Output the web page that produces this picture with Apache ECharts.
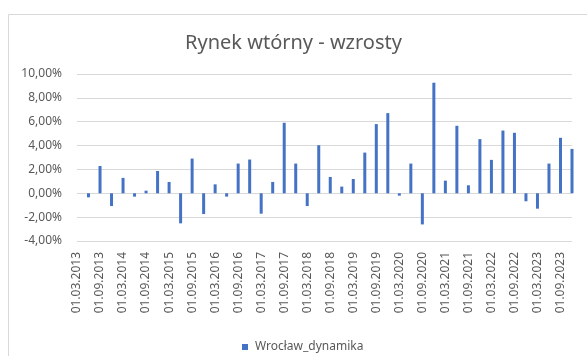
<!DOCTYPE html>
<html>
<head>
<meta charset="utf-8">
<script src="https://cdn.jsdelivr.net/npm/echarts@6/dist/echarts.min.js"></script>
<style>
  html, body { margin: 0; padding: 0; background: #ffffff; }
  #chart { width: 587px; height: 356px; }
</style>
</head>
<body>
<div id="chart"></div>
<script>
// Quarterly dates (first day of each quarter's reference month)
const categories = [
  '01.03.2013','01.06.2013','01.09.2013','01.12.2013',
  '01.03.2014','01.06.2014','01.09.2014','01.12.2014',
  '01.03.2015','01.06.2015','01.09.2015','01.12.2015',
  '01.03.2016','01.06.2016','01.09.2016','01.12.2016',
  '01.03.2017','01.06.2017','01.09.2017','01.12.2017',
  '01.03.2018','01.06.2018','01.09.2018','01.12.2018',
  '01.03.2019','01.06.2019','01.09.2019','01.12.2019',
  '01.03.2020','01.06.2020','01.09.2020','01.12.2020',
  '01.03.2021','01.06.2021','01.09.2021','01.12.2021',
  '01.03.2022','01.06.2022','01.09.2022','01.12.2022',
  '01.03.2023','01.06.2023','01.09.2023','01.12.2023'
];

// Quarter-on-quarter change, in percent
const wroclawDynamika = [
  null, -0.34, 2.29, -1.07,
  1.29, -0.28, 0.22, 1.87,
  0.95, -2.52, 2.91, -1.74,
  0.75, -0.28, 2.49, 2.83,
  -1.71, 0.95, 5.91, 2.49,
  -1.07, 4.03, 1.37, 0.56,
  1.20, 3.41, 5.80, 6.72,
  -0.20, 2.49, -2.61, 9.27,
  1.06, 5.66, 0.67, 4.54,
  2.80, 5.26, 5.07, -0.67,
  -1.29, 2.49, 4.65, 3.72
];

const seriesName = 'Wrocław_dynamika';
const chartTitle = 'Rynek wtórny - wzrosty';

const FONT = '"Noto Sans", "Open Sans", sans-serif';
const TEXT = '#595959';

const chart = echarts.init(document.getElementById('chart'), null, { renderer: 'canvas' });

chart.setOption({
  backgroundColor: '#ffffff',
  animation: false,
  graphic: [{
    type: 'rect',
    shape: { x: 8.5, y: 14.5, width: 600, height: 360 },
    style: { fill: 'none', stroke: '#d9d9d9', lineWidth: 1 },
    silent: true,
    z: -1
  }],
  title: {
    text: chartTitle,
    left: 'center',
    top: 28,
    textStyle: { fontFamily: FONT, fontSize: 20, fontWeight: 'normal', color: TEXT }
  },
  legend: {
    data: [seriesName],
    left: 237,
    top: 336,
    icon: 'rect',
    itemWidth: 6,
    itemHeight: 6,
    itemGap: 6,
    textStyle: { fontFamily: FONT, fontSize: 12, color: TEXT, padding: [0, 0, 0, 2] }
  },
  grid: { left: 77, right: 15, top: 74, bottom: 115 },
  xAxis: {
    type: 'category',
    data: categories,
    boundaryGap: false,
    axisLine: { show: false },
    axisTick: { show: false },
    axisLabel: {
      interval: 1,
      rotate: 90,
      margin: 11,
      fontFamily: FONT,
      fontSize: 12,
      color: TEXT
    },
    splitLine: { show: false }
  },
  yAxis: {
    type: 'value',
    min: -4,
    max: 10,
    interval: 2,
    axisLine: { show: false },
    axisTick: { show: false },
    axisLabel: {
      margin: 15,
      fontFamily: FONT,
      fontSize: 12,
      color: TEXT,
      formatter: v => v.toFixed(2).replace('.', ',') + '%'
    },
    splitLine: { lineStyle: { color: '#d9d9d9', width: 1 } }
  },
  series: [{
    name: seriesName,
    type: 'bar',
    data: wroclawDynamika,
    barWidth: 3,
    itemStyle: { color: '#4472C4' }
  }]
});
</script>
</body>
</html>
